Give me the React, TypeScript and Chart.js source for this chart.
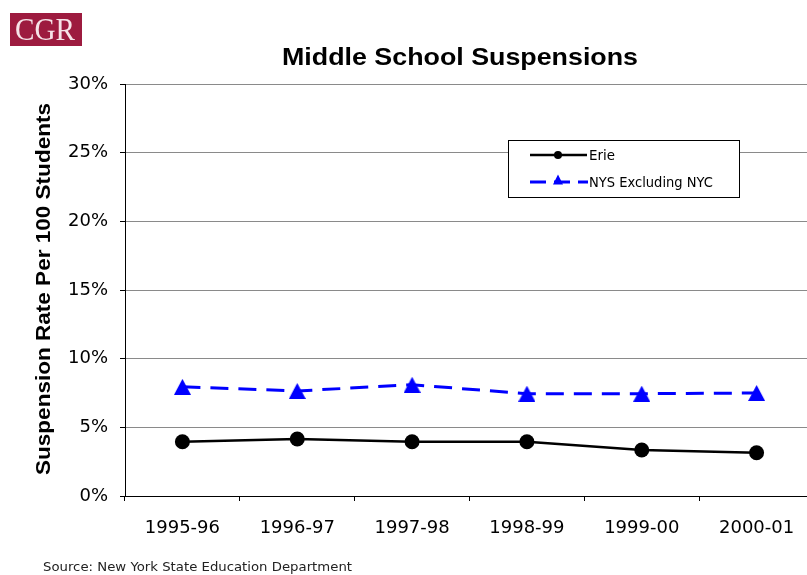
import React, { useEffect, useRef } from "react";
import { Chart, registerables } from "chart.js";

Chart.register(...registerables);

const categories = ["1995-96", "1996-97", "1997-98", "1998-99", "1999-00", "2000-01"];
const erieValues = [3.95, 4.15, 3.95, 3.95, 3.35, 3.15];
const nysValues = [7.95, 7.65, 8.1, 7.45, 7.45, 7.5];
const seriesNames = ["Erie", "NYS Excluding NYC"];
const yMin = 0;
const yMax = 30;
const yStep = 5;
const titleText = "Middle School Suspensions";
const yAxisTitle = "Suspension Rate Per 100 Students";
const sourceText = "Source: New York State Education Department";
const logoText = "CGR";

function makeTriangle(w: number, h: number, color: string) {
  const c = document.createElement("canvas");
  c.width = w;
  c.height = h;
  const ctx = c.getContext("2d")!;
  ctx.fillStyle = color;
  ctx.beginPath();
  ctx.moveTo(w / 2, 0);
  ctx.lineTo(w, h);
  ctx.lineTo(0, h);
  ctx.closePath();
  ctx.fill();
  return c;
}

function fitText(
  ctx: CanvasRenderingContext2D,
  text: string,
  x: number,
  y: number,
  font: string,
  width: number,
  align: CanvasTextAlign,
  color: string,
  rotate = 0
) {
  ctx.save();
  ctx.font = font;
  ctx.fillStyle = color;
  const w = ctx.measureText(text).width;
  ctx.translate(x, y);
  if (rotate) ctx.rotate(rotate);
  ctx.scale(width / w, 1);
  ctx.textAlign = align;
  ctx.textBaseline = "alphabetic";
  ctx.fillText(text, 0, 0);
  ctx.restore();
}

const decorPlugin = {
  id: "decor",
  afterDraw(chart: any) {
    const ctx: CanvasRenderingContext2D = chart.ctx;
    // logo
    ctx.save();
    ctx.fillStyle = "#9d1b3f";
    ctx.fillRect(10, 13, 72, 33);
    ctx.restore();
    fitText(ctx, logoText, 45, 40, "32px 'Liberation Serif'", 60, "center", "#f6e3e8");
    // title
    fitText(ctx, titleText, 460, 65, "bold 24px 'Liberation Sans', Arial, sans-serif", 356, "center", "#000");
    // y-axis title
    fitText(ctx, yAxisTitle, 49.5, 289, "bold 20px 'Liberation Sans', Arial, sans-serif", 372, "center", "#000", -Math.PI / 2);
    // source
    fitText(ctx, sourceText, 43, 571, "11.5px 'DejaVu Sans'", 309, "left", "#222");
    // legend
    ctx.save();
    ctx.fillStyle = "#fff";
    ctx.fillRect(508.5, 140.5, 231, 57);
    ctx.strokeStyle = "#000";
    ctx.lineWidth = 1;
    ctx.strokeRect(508.5, 140.5, 231, 57);
    // Erie sample
    ctx.strokeStyle = "#000";
    ctx.lineWidth = 2.5;
    ctx.beginPath();
    ctx.moveTo(530, 155);
    ctx.lineTo(587, 155);
    ctx.stroke();
    ctx.fillStyle = "#000";
    ctx.beginPath();
    ctx.arc(558, 155, 4, 0, Math.PI * 2);
    ctx.fill();
    // NYS sample
    ctx.strokeStyle = "#0000ff";
    ctx.lineWidth = 3;
    ctx.setLineDash([16, 8]);
    ctx.beginPath();
    ctx.moveTo(530, 182);
    ctx.lineTo(588, 182);
    ctx.stroke();
    ctx.setLineDash([]);
    ctx.fillStyle = "#0000ff";
    ctx.beginPath();
    ctx.moveTo(558, 174.5);
    ctx.lineTo(563, 184.5);
    ctx.lineTo(553, 184.5);
    ctx.closePath();
    ctx.fill();
    ctx.restore();
    fitText(ctx, seriesNames[0], 589, 160, "13.5px 'DejaVu Sans'", 26, "left", "#000");
    fitText(ctx, seriesNames[1], 589, 187, "13.5px 'DejaVu Sans'", 124, "left", "#000");
  },
};

export default function App() {
  const ref = useRef<HTMLCanvasElement>(null);
  useEffect(() => {
    if (!ref.current) return;
    const tri = makeTriangle(17, 16, "#0000ff");
    const chart = new Chart(ref.current, {
      type: "line",
      data: {
        labels: categories,
        datasets: [
          {
            label: seriesNames[0],
            data: erieValues,
            borderColor: "#000",
            backgroundColor: "#000",
            borderWidth: 2.5,
            pointStyle: "circle",
            pointRadius: 7.5,
            pointBorderWidth: 0,
            pointBackgroundColor: "#000",
            tension: 0,
          },
          {
            label: seriesNames[1],
            data: nysValues,
            borderColor: "#0000ff",
            backgroundColor: "#0000ff",
            borderWidth: 3,
            borderDash: [18, 10],
            pointStyle: tri as any,
            pointRadius: 8,
            tension: 0,
          },
        ],
      },
      options: {
        responsive: false,
        animation: false,
        layout: { padding: { top: 84, right: 10, left: 0, bottom: 0 } },
        plugins: {
          legend: { display: false },
          title: { display: false },
          tooltip: { enabled: false },
        },
        scales: {
          x: {
            type: "category",
            offset: true,
            afterFit: (s: any) => {
              s.height = 79;
            },
            grid: {
              offset: true,
              drawOnChartArea: false,
              drawTicks: true,
              tickLength: 5,
              tickColor: "#000",
              color: "#000",
            },
            border: { display: true, color: "#000", width: 1 },
            ticks: {
              font: { family: "'DejaVu Sans'", size: 18 },
              color: "#000",
              padding: 17,
              maxRotation: 0,
              autoSkip: false,
            },
          },
          y: {
            min: yMin,
            max: yMax,
            afterFit: (s: any) => {
              s.width = 125;
            },
            grid: {
              color: "#8a8a8a",
              lineWidth: 1,
              drawTicks: true,
              tickLength: 5,
              tickColor: "#000",
            },
            border: { display: true, color: "#000", width: 1 },
            ticks: {
              stepSize: yStep,
              font: { family: "'DejaVu Sans'", size: 18 },
              color: "#000",
              padding: 12,
              callback: (v: any) => `${v}%`,
            },
          },
        },
      },
      plugins: [decorPlugin],
    });
    return () => chart.destroy();
  }, []);
  return (
    <div
      style={{
        position: "fixed",
        left: 0,
        top: 0,
        width: 807,
        height: 575,
        overflow: "hidden",
        background: "#fff",
      }}
    >
      <canvas ref={ref} width={825} height={575} style={{ display: "block" }} />
    </div>
  );
}
